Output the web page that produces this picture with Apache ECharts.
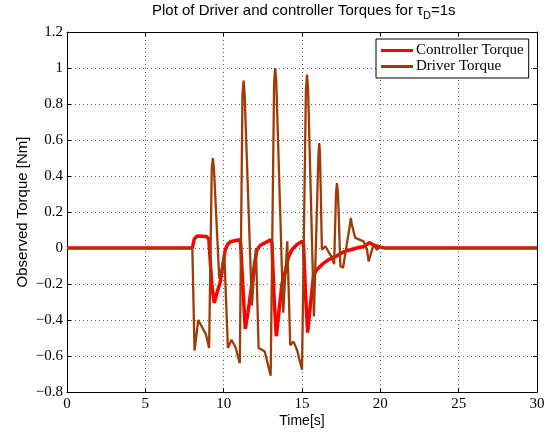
<!DOCTYPE html>
<html>
<head>
<meta charset="utf-8">
<script src="https://cdn.jsdelivr.net/npm/echarts@6/dist/echarts.min.js"></script>
<style>
html,body{margin:0;padding:0;background:#fff;}
#chart{width:556px;height:433px;}
</style>
</head>
<body>
<div id="chart"></div>
<script>
// ---- data ----
var xTicks = [0, 5, 10, 15, 20, 25, 30];
var yTicks = [-0.8, -0.6, -0.4, -0.2, 0, 0.2, 0.4, 0.6, 0.8, 1, 1.2];

var controllerTime = [0, 8.0, 8.12, 8.3, 8.9, 9.05, 9.25, 9.4, 9.57, 9.78, 9.96, 10.1, 10.25, 10.42, 11.0, 11.08, 11.25, 11.38, 11.55, 11.8, 12.0, 12.13, 12.34, 12.66, 13.0, 13.08, 13.22, 13.36, 13.52, 13.72, 13.93, 14.14, 14.36, 14.68, 15.02, 15.1, 15.22, 15.36, 15.52, 15.74, 15.96, 16.3, 16.7, 17.2, 17.7, 18.1, 18.5, 19.0, 19.3, 19.6, 20.0, 20.3, 30];
var controllerTorque = [0, 0, 0.05, 0.066, 0.064, 0.05, -0.21, -0.305, -0.25, -0.19, -0.09, -0.01, 0.02, 0.035, 0.046, 0.03, -0.25, -0.45, -0.36, -0.2, -0.07, -0.01, 0.015, 0.03, 0.046, 0.03, -0.28, -0.49, -0.36, -0.2, -0.13, -0.05, -0.01, 0.02, 0.037, 0.02, -0.25, -0.47, -0.33, -0.15, -0.12, -0.09, -0.065, -0.045, -0.02, -0.01, 0.0, 0.01, 0.03, 0.015, 0.005, 0, 0];

var driverTime = [0, 8.0, 8.14, 8.38, 8.87, 8.98, 9.07, 9.24, 9.31, 9.38, 9.72, 9.88, 10.04, 10.27, 10.5, 10.75, 11.03, 11.2, 11.27, 11.34, 11.8, 12.06, 12.23, 12.45, 12.62, 13.0, 13.22, 13.29, 13.36, 13.8, 14.06, 14.25, 14.46, 14.68, 15.0, 15.25, 15.32, 15.39, 15.76, 16.05, 16.1, 16.15, 16.27, 16.49, 16.75, 16.9, 17.05, 17.17, 17.23, 17.3, 17.45, 17.62, 18.06, 18.12, 18.18, 18.4, 18.93, 19.15, 19.25, 19.57, 19.78, 19.95, 20.2, 21.2, 21.3, 21.45, 30];
var driverTorque = [0, 0, -0.57, -0.40, -0.48, -0.49, -0.556, 0.44, 0.50, 0.44, -0.17, -0.12, -0.03, -0.556, -0.51, -0.55, -0.64, 0.85, 0.93, 0.85, -0.32, 0.0, -0.556, -0.565, -0.575, -0.71, 0.92, 1.0, 0.92, -0.36, 0.037, -0.54, -0.52, -0.565, -0.676, 0.88, 0.963, 0.88, -0.38, 0.52, 0.583, 0.52, -0.01, 0.01, -0.03, -0.05, -0.09, 0.30, 0.36, 0.30, -0.10, -0.11, 0.13, 0.167, 0.13, 0.056, 0.037, -0.01, -0.074, 0.019, -0.01, 0.005, 0, 0, 0.01, 0, 0];

var seriesNames = ['Controller Torque', 'Driver Torque'];

function zip(a, b) { return a.map(function (t, i) { return [t, b[i]]; }); }

var serif = 'Liberation Serif';
var sans = 'Liberation Sans';
var red = '#ff0000', brown = '#9e3b06';

var chart = echarts.init(document.getElementById('chart'), null, {renderer: 'canvas'});
var gridLine = {show: true, lineStyle: {color: '#666', width: 1, type: [1, 3]}};
chart.setOption({
  animation: false,
  backgroundColor: '#fff',
  title: {
    text: 'Plot of Driver and controller Torques for τ{sub|D}=1s',
    left: 147, top: -4,
    textStyle: {
      fontFamily: sans, fontSize: 15, fontWeight: 'normal', color: '#000',
      rich: {sub: {fontFamily: sans, fontSize: 11, color: '#000', padding: [9, 0, 0, 0]}}
    }
  },
  grid: {left: 67, right: 19, top: 32, bottom: 41, show: false},
  legend: {
    orient: 'vertical', left: 376, top: 39,
    data: [
      {name: seriesNames[0], icon: 'rect', itemStyle: {color: red}},
      {name: seriesNames[1], icon: 'rect', itemStyle: {color: brown}}
    ],
    itemWidth: 32, itemHeight: 3, itemGap: 1,
    padding: [4, 5, 4, 5],
    borderColor: '#000', borderWidth: 1, backgroundColor: '#fff', borderRadius: 0,
    textStyle: {fontFamily: serif, fontSize: 15, lineHeight: 15, color: '#000', padding: [0, 0, 0, -2]}
  },
  xAxis: [{
    type: 'value', min: 0, max: 30, interval: 5,
    name: 'Time[s]', nameLocation: 'middle', nameGap: 22, nameMoveOverlap: false,
    nameTextStyle: {fontFamily: sans, fontSize: 14, color: '#000'},
    axisLine: {show: true, onZero: false, lineStyle: {color: '#000', width: 1}},
    axisTick: {show: true, inside: true, length: 4, lineStyle: {color: '#000'}},
    axisLabel: {fontFamily: serif, fontSize: 15, color: '#000', margin: 5},
    splitLine: gridLine
  }, {
    type: 'value', min: 0, max: 30, interval: 5, position: 'top',
    axisLine: {show: true, onZero: false, lineStyle: {color: '#000', width: 1}},
    axisTick: {show: true, inside: true, length: 4, lineStyle: {color: '#000'}},
    axisLabel: {show: false}, splitLine: {show: false}
  }],
  yAxis: [{
    type: 'value', min: -0.8, max: 1.2, interval: 0.2,
    name: 'Observed Torque [Nm]', nameLocation: 'middle', nameGap: 37, nameMoveOverlap: false,
    nameTextStyle: {fontFamily: sans, fontSize: 15, color: '#000'},
    axisLine: {show: true, onZero: false, lineStyle: {color: '#000', width: 1}},
    axisTick: {show: true, inside: true, length: 4, lineStyle: {color: '#000'}},
    axisLabel: {fontFamily: serif, fontSize: 15, color: '#000', margin: 4,
      formatter: function (v) { return String(Math.round(v * 10) / 10).replace('-', '\u2212'); }},
    splitLine: gridLine
  }, {
    type: 'value', min: -0.8, max: 1.2, interval: 0.2, position: 'right',
    axisLine: {show: true, onZero: false, lineStyle: {color: '#000', width: 1}},
    axisTick: {show: true, inside: true, length: 4, lineStyle: {color: '#000'}},
    axisLabel: {show: false}, splitLine: {show: false}
  }],
  series: [{
    name: seriesNames[0], type: 'line', xAxisIndex: 0, yAxisIndex: 0,
    data: zip(controllerTime, controllerTorque),
    showSymbol: false, symbol: 'none', smooth: false,
    lineStyle: {color: red, width: 3.5},
    itemStyle: {color: red}, z: 2
  }, {
    name: seriesNames[1], type: 'line', xAxisIndex: 0, yAxisIndex: 0,
    data: zip(driverTime, driverTorque),
    showSymbol: false, symbol: 'none', smooth: false,
    lineStyle: {color: brown, width: 2.3},
    itemStyle: {color: brown}, z: 3
  }]
});
</script>
</body>
</html>
